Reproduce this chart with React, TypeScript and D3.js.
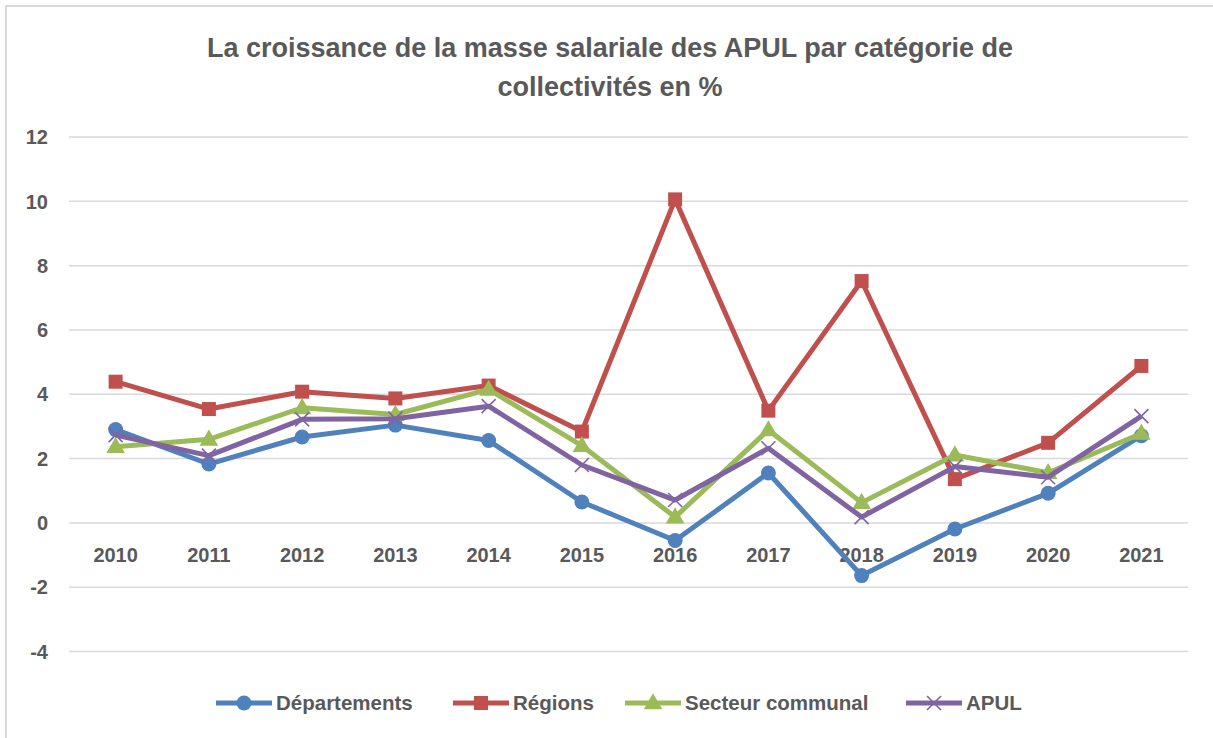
import React from "react";
import * as d3 from "d3";

const years = ["2010","2011","2012","2013","2014","2015","2016","2017","2018","2019","2020","2021"];
const departements = [2.9, 1.83, 2.67, 3.04, 2.56, 0.65, -0.55, 1.55, -1.64, -0.19, 0.92, 2.71];
const regions = [4.39, 3.54, 4.08, 3.87, 4.27, 2.84, 10.06, 3.49, 7.52, 1.36, 2.49, 4.88];
const secteurCommunal = [2.37, 2.6, 3.58, 3.37, 4.15, 2.4, 0.18, 2.89, 0.63, 2.11, 1.56, 2.78];
const apul = [2.73, 2.09, 3.22, 3.24, 3.63, 1.8, 0.71, 2.32, 0.18, 1.75, 1.42, 3.32];
const yTicks = [-4, -2, 0, 2, 4, 6, 8, 10, 12];
const titleLines = ["La croissance de la masse salariale des APUL par catégorie de", "collectivités en %"];

const seriesList = [
  { name: "Départements", values: departements, color: "#4F81BD", marker: "circle" },
  { name: "Régions", values: regions, color: "#C0504D", marker: "square" },
  { name: "Secteur communal", values: secteurCommunal, color: "#9BBB59", marker: "triangle" },
  { name: "APUL", values: apul, color: "#8064A2", marker: "x" },
];

const legendX = [216, 453, 625, 906];

function Marker({ type, x, y, color }: { type: string; x: number; y: number; color: string }) {
  if (type === "circle") return <circle cx={x} cy={y} r={7.5} fill={color} />;
  if (type === "square") return <rect x={x - 7} y={y - 7} width={14} height={14} fill={color} />;
  if (type === "triangle") {
    const p = d3.symbol().type(d3.symbolTriangle).size(150)();
    return <path d={p || ""} transform={`translate(${x},${y + 1})`} fill={color} />;
  }
  return (
    <g stroke={color} strokeWidth={1.6}>
      <line x1={x - 7} y1={y - 7} x2={x + 7} y2={y + 7} />
      <line x1={x - 7} y1={y + 7} x2={x + 7} y2={y - 7} />
    </g>
  );
}

export default function App() {
  const W = 1213, H = 738;
  const x = d3.scaleBand().domain(years).range([69, 1188]);
  const y = d3.scaleLinear().domain([-4, 12]).range([651.5, 137]);
  const cx = (d: string) => (x(d) as number) + x.bandwidth() / 2;
  const line = d3.line<number>().x((_, i) => cx(years[i])).y((v) => y(v));
  const font = "'Liberation Sans', Arial, sans-serif";
  return (
    <svg width={W} height={H} style={{ position: "absolute", left: 0, top: 0, background: "#fff" }}>
      <rect x={6} y={6} width={1220} height={750} fill="#fff" stroke="#D9D9D9" strokeWidth={2} />
      {titleLines.map((t, i) => (
        <text key={i} x={610} y={57 + i * 39} textAnchor="middle" fontFamily={font} fontWeight="bold" fontSize={27} fill="#595959">
          {t}
        </text>
      ))}
      {yTicks.map((t) => (
        <g key={t}>
          <line x1={69} x2={1188} y1={y(t)} y2={y(t)} stroke="#D9D9D9" strokeWidth={1.5} />
          <text x={48} y={y(t)} dy="0.36em" textAnchor="end" fontFamily={font} fontWeight="bold" fontSize={20} fill="#595959">
            {t}
          </text>
        </g>
      ))}
      {years.map((yr) => (
        <text key={yr} x={cx(yr)} y={562} textAnchor="middle" fontFamily={font} fontWeight="bold" fontSize={20} fill="#595959">
          {yr}
        </text>
      ))}
      {seriesList.map((s) => (
        <g key={s.name}>
          <path d={line(s.values) || ""} fill="none" stroke={s.color} strokeWidth={5} strokeLinejoin="round" />
          {s.values.map((v, i) => (
            <Marker key={i} type={s.marker} x={cx(years[i])} y={y(v)} color={s.color} />
          ))}
        </g>
      ))}
      {seriesList.map((s, i) => (
        <g key={s.name}>
          <line x1={legendX[i]} x2={legendX[i] + 56} y1={703} y2={703} stroke={s.color} strokeWidth={5} />
          <Marker type={s.marker} x={legendX[i] + 28} y={703} color={s.color} />
          <text x={legendX[i] + 60} y={703} dy="0.36em" fontFamily={font} fontWeight="bold" fontSize={20.5} fill="#595959">
            {s.name}
          </text>
        </g>
      ))}
    </svg>
  );
}
